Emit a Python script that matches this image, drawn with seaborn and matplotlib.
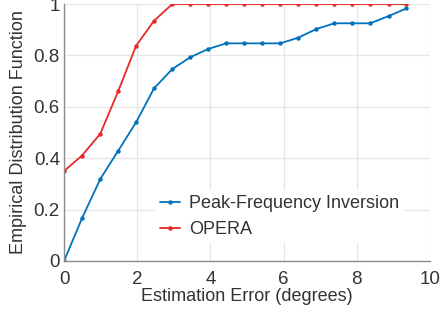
import numpy as np
import pandas as pd
import seaborn as sns
import matplotlib.pyplot as plt

# values
error_deg = [0, 0.49, 0.99, 1.48, 1.97, 2.46, 2.96, 3.45, 3.94, 4.43,
             4.93, 5.42, 5.91, 6.40, 6.90, 7.39, 7.88, 8.37, 8.87, 9.36]
peak_freq = [0, 0.166, 0.319, 0.429, 0.540, 0.672, 0.747, 0.793, 0.825, 0.847,
             0.847, 0.847, 0.847, 0.869, 0.903, 0.925, 0.925, 0.925, 0.953, 0.983]
opera = [0.350, 0.410, 0.495, 0.661, 0.838, 0.935, 1, 1, 1, 1,
         1, 1, 1, 1, 1, 1, 1, 1, 1, 1]
series_names = ['Peak-Frequency Inversion', 'OPERA']
series_colors = ['#0072BD', '#E8282B']

df = pd.DataFrame({
    'err': error_deg * 2,
    'cdf': peak_freq + opera,
    'method': [series_names[0]] * len(error_deg) + [series_names[1]] * len(error_deg),
})

sns.set_style('whitegrid')
plt.rcParams['font.family'] = ['Liberation Sans', 'DejaVu Sans']
plt.rcParams.update({
    'grid.color': '#E6E6E6',
    'grid.linewidth': 0.9,
    'axes.edgecolor': '#8C8C8C',
    'text.color': '#333333',
    'axes.labelcolor': '#333333',
})

fig = plt.figure(figsize=(4.45, 3.11), dpi=100)
ax = fig.add_axes([0.144, 0.161, 0.822, 0.826])

sns.lineplot(data=df, x='err', y='cdf', hue='method', palette=series_colors,
             marker='o', markersize=3.2, markeredgewidth=0, linewidth=1.3,
             ax=ax)

ax.set_xlim(0, 10)
ax.set_ylim(0, 1)
ax.set_xticks([0, 2, 4, 6, 8, 10])
ax.set_yticks([0, 0.2, 0.4, 0.6, 0.8, 1])
ax.set_yticklabels(['0', '0.2', '0.4', '0.6', '0.8', '1'])
ax.tick_params(labelsize=13.5, direction='in', length=3, width=0.9,
               color='#8C8C8C', labelcolor='#333333')
ax.tick_params(axis='x', pad=7)
ax.tick_params(axis='y', pad=3)
ax.set_xlabel('Estimation Error (degrees)', fontsize=13, labelpad=0)
ax.set_ylabel('Empirical Distribution Function', fontsize=13, labelpad=5)

for side in ['top', 'right']:
    ax.spines[side].set_visible(False)
for side in ['left', 'bottom']:
    ax.spines[side].set_linewidth(1.0)

leg = ax.legend(loc='lower right', bbox_to_anchor=(0.955, 0.033), fontsize=13,
                frameon=True, facecolor='white', edgecolor='white', framealpha=1,
                handlelength=1.1, handletextpad=0.5, borderpad=0.3,
                labelspacing=0.5)
leg.get_frame().set_linewidth(0)

fig.savefig('out.png', dpi=100)
